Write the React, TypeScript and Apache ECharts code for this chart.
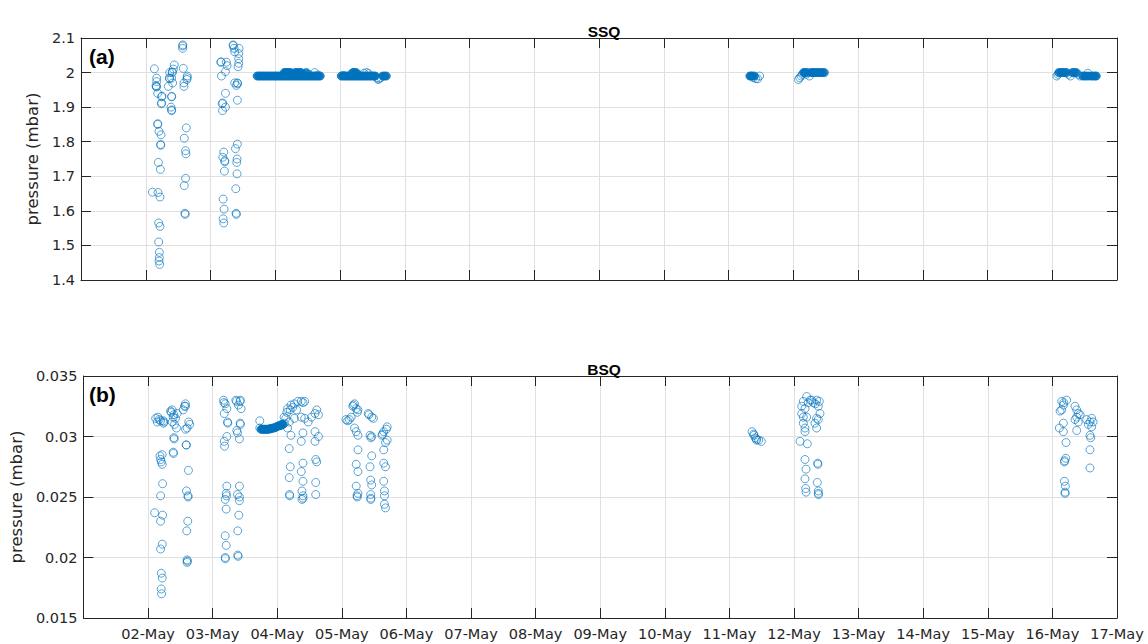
import React, { useEffect, useRef } from "react";
import * as echarts from "echarts";

// x values are day-of-May (fractional), y values pressure in mbar
const xTickLabels = ["", "02-May", "03-May", "04-May", "05-May", "06-May", "07-May", "08-May", "09-May", "10-May", "11-May", "12-May", "13-May", "14-May", "15-May", "16-May", "17-May"];

const ssqMay02 = [
  [2.133, 2.011], [2.169, 1.984], [2.169, 1.974], [2.159, 1.962], [2.165, 1.958], [2.165, 1.96], [2.185, 1.94],
  [2.246, 1.93], [2.25, 1.932], [2.241, 1.91], [2.245, 1.912], [2.185, 1.85], [2.185, 1.852], [2.205, 1.83],
  [2.236, 1.82], [2.231, 1.79], [2.23, 1.792], [2.195, 1.74], [2.226, 1.72], [2.103, 1.654], [2.19, 1.653],
  [2.22, 1.64], [2.2, 1.565], [2.22, 1.555], [2.2, 1.51], [2.21, 1.48], [2.21, 1.465], [2.205, 1.455], [2.215, 1.445],
  [2.44, 2.022], [2.426, 2.01], [2.369, 2.0], [2.41, 2.0], [2.41, 2.002], [2.364, 1.984], [2.369, 1.983],
  [2.4, 1.984], [2.349, 1.96], [2.415, 1.97], [2.4, 1.93], [2.4, 1.931], [2.39, 1.9], [2.4, 1.89], [2.4, 1.892],
  [2.57, 2.077], [2.57, 2.07], [2.572, 2.08], [2.58, 2.012], [2.64, 1.99], [2.64, 1.985], [2.636, 1.98],
  [2.59, 1.97], [2.59, 1.96], [2.626, 1.84], [2.595, 1.81], [2.615, 1.774], [2.62, 1.765], [2.615, 1.694],
  [2.595, 1.673], [2.605, 1.593], [2.61, 1.59]
];

const ssqMay03 = [
  [3.159, 2.03], [3.165, 2.031], [3.246, 2.03], [3.256, 2.02], [3.231, 2.003], [3.169, 1.99], [3.231, 1.94],
  [3.18, 1.91], [3.19, 1.912], [3.231, 1.9], [3.185, 1.89], [3.205, 1.77], [3.19, 1.755], [3.22, 1.745],
  [3.222, 1.742], [3.215, 1.715], [3.195, 1.634], [3.21, 1.605], [3.195, 1.577], [3.205, 1.565],
  [3.349, 2.08], [3.352, 2.078], [3.364, 2.07], [3.374, 2.06], [3.441, 2.07], [3.436, 2.055], [3.436, 2.04],
  [3.436, 2.027], [3.426, 2.017], [3.374, 1.97], [3.415, 1.97], [3.42, 1.968], [3.4, 1.963], [3.415, 1.92],
  [3.415, 1.793], [3.385, 1.78], [3.41, 1.75], [3.405, 1.74], [3.41, 1.707], [3.39, 1.664], [3.395, 1.593], [3.4, 1.59]
];

// densely sampled stretches (many overlapping markers read as a solid band)
const ssqMay04Dense = [
  [3.72, 1.99], [3.745, 1.99], [3.77, 1.99], [3.795, 1.99], [3.82, 1.99], [3.845, 1.99], [3.87, 1.99], [3.895, 1.99],
  [3.92, 1.99], [3.945, 1.99], [3.97, 1.99], [3.995, 1.99], [4.02, 1.99], [4.045, 1.99], [4.07, 1.99], [4.095, 1.99],
  [4.12, 1.99], [4.145, 1.99], [4.17, 1.99], [4.195, 1.99], [4.22, 1.99], [4.245, 1.99], [4.27, 1.99], [4.295, 1.99],
  [4.32, 1.99], [4.345, 1.99], [4.37, 1.99], [4.395, 1.99], [4.42, 1.99], [4.445, 1.99], [4.47, 1.99], [4.495, 1.99],
  [4.52, 1.99], [4.545, 1.99], [4.57, 1.99], [4.595, 1.99], [4.62, 1.99], [4.645, 1.99], [4.67, 1.99], [4.695, 1.99],
  [4.14, 2.0], [4.16, 2.0], [4.18, 2.0], [4.21, 2.0], [4.24, 2.0], [4.31, 2.0], [4.34, 2.0],
  [4.37, 2.0], [4.4, 2.0], [4.48, 2.0]
];

const ssqMay04Sparse = [
  [4.27, 1.995], [4.44, 1.996], [4.52, 1.995], [4.61, 2.0], [4.66, 1.993]
];

const ssqMay05Dense = [
  [5.02, 1.99], [5.045, 1.99], [5.07, 1.99], [5.095, 1.99], [5.12, 1.99], [5.145, 1.99], [5.17, 1.99], [5.195, 1.99],
  [5.22, 1.99], [5.245, 1.99], [5.27, 1.99], [5.295, 1.99], [5.32, 1.99], [5.345, 1.99], [5.37, 1.99], [5.395, 1.99],
  [5.42, 1.99], [5.445, 1.99], [5.47, 1.99], [5.495, 1.99], [5.52, 1.99], [5.545, 1.99], [5.66, 1.99], [5.69, 1.99],
  [5.715, 1.99], [5.2, 2.0], [5.22, 2.0], [5.25, 2.0]
];

const ssqMay05Sparse = [
  [5.05, 1.992], [5.17, 1.996], [5.28, 1.995], [5.37, 1.998], [5.41, 2.0], [5.44, 1.997], [5.57, 1.985], [5.6, 1.982],
  [5.63, 1.985], [5.59, 1.98]
];

const ssqMay11Dense = [
  [11.33, 1.99], [11.35, 1.99], [11.37, 1.99], [11.4, 1.99]
];

const ssqMay11Sparse = [
  [11.385, 1.985], [11.42, 1.983], [11.45, 1.982], [11.48, 1.99]
];

const ssqMay12Dense = [
  [12.16, 2.0], [12.18, 2.0], [12.22, 2.0], [12.28, 2.0], [12.3, 2.0], [12.33, 2.0], [12.36, 2.0], [12.39, 2.0],
  [12.42, 2.0], [12.45, 2.0], [12.48, 2.0]
];

const ssqMay12Sparse = [
  [12.08, 1.98], [12.1, 1.985], [12.12, 1.99], [12.14, 1.995], [12.2, 1.995], [12.25, 1.99]
];

const ssqMay16Dense = [
  [16.1, 2.0], [16.13, 2.0], [16.16, 2.0], [16.19, 2.0], [16.22, 2.0], [16.31, 2.0], [16.34, 2.0], [16.37, 2.0],
  [16.47, 1.99], [16.5, 1.99], [16.53, 1.99], [16.56, 1.99], [16.6, 1.99], [16.63, 1.99], [16.66, 1.99], [16.68, 1.99]
];

const ssqMay16Sparse = [
  [16.07, 1.99], [16.09, 1.995], [16.25, 1.995], [16.28, 1.99], [16.4, 1.995], [16.43, 1.99], [16.55, 1.998]
];

const bsqMay02 = [
  [2.118, 0.0315], [2.154, 0.0316], [2.174, 0.0314], [2.144, 0.0312], [2.195, 0.0313], [2.236, 0.0313], [2.246, 0.0312],
  [2.24, 0.0311], [2.22, 0.0285], [2.185, 0.0284], [2.195, 0.0281], [2.205, 0.0279], [2.22, 0.0277], [2.226, 0.0261],
  [2.195, 0.0251], [2.103, 0.0237], [2.226, 0.0235], [2.195, 0.023], [2.22, 0.0211], [2.195, 0.0207], [2.205, 0.0187],
  [2.22, 0.0183], [2.205, 0.0174], [2.21, 0.017],
  [2.349, 0.0321], [2.374, 0.0322], [2.4, 0.0318], [2.426, 0.0315], [2.374, 0.0312], [2.451, 0.0319], [2.41, 0.031],
  [2.441, 0.0307], [2.36, 0.032], [2.39, 0.0316], [2.4, 0.0299], [2.405, 0.0298], [2.39, 0.0287], [2.395, 0.0286],
  [2.58, 0.0327], [2.564, 0.0325], [2.544, 0.0322], [2.58, 0.0325], [2.631, 0.0312], [2.646, 0.031], [2.605, 0.0307],
  [2.58, 0.0306], [2.59, 0.0293], [2.595, 0.0293], [2.626, 0.0272], [2.595, 0.0255], [2.62, 0.0251], [2.62, 0.025],
  [2.615, 0.023], [2.6, 0.0222], [2.605, 0.0198], [2.605, 0.0196], [2.61, 0.0197]
];

const bsqMay03 = [
  [3.169, 0.033], [3.195, 0.0327], [3.22, 0.0323], [3.18, 0.0319], [3.175, 0.0328], [3.231, 0.0312], [3.235, 0.0311],
  [3.22, 0.03], [3.18, 0.0296], [3.185, 0.0292], [3.22, 0.0259], [3.21, 0.0253], [3.215, 0.0251], [3.195, 0.0248],
  [3.21, 0.024], [3.195, 0.0218], [3.21, 0.021], [3.195, 0.02], [3.198, 0.0199],
  [3.359, 0.033], [3.37, 0.0329], [3.426, 0.0329], [3.4, 0.0326], [3.441, 0.0323], [3.43, 0.033], [3.426, 0.0311],
  [3.43, 0.031], [3.374, 0.0305], [3.385, 0.0303], [3.415, 0.0298], [3.415, 0.0259], [3.385, 0.0252], [3.415, 0.0247],
  [3.415, 0.025], [3.405, 0.0235], [3.39, 0.0222], [3.39, 0.0202], [3.395, 0.0201], [3.73, 0.0313]
];

const bsqMay04Dense = [
  [3.75, 0.0306], [3.77, 0.0306], [3.79, 0.0306], [3.81, 0.0306], [3.83, 0.0306],
  [3.85, 0.0306], [3.87, 0.0306], [3.89, 0.03065], [3.91, 0.03065], [3.93, 0.0307], [3.95, 0.0307], [3.97, 0.03075],
  [3.99, 0.0308], [4.01, 0.03085], [4.03, 0.0309], [4.05, 0.0309], [4.07, 0.031], [4.09, 0.031]
];

const bsqMay04 = [
  [3.73, 0.0307], [4.11, 0.0311],
  [4.106, 0.0316], [4.16, 0.0323], [4.213, 0.0326], [4.266, 0.0327], [4.319, 0.0329], [4.372, 0.0329], [4.426, 0.0329],
  [4.4, 0.0328], [4.133, 0.0315], [4.186, 0.0312], [4.266, 0.0315], [4.372, 0.0316], [4.426, 0.0315], [4.479, 0.0312],
  [4.532, 0.0316], [4.585, 0.0319], [4.612, 0.0322], [4.638, 0.0318], [4.15, 0.032], [4.2, 0.0322], [4.24, 0.0324],
  [4.3, 0.0322], [4.16, 0.0307], [4.213, 0.0301], [4.399, 0.0303], [4.585, 0.0304], [4.638, 0.03], [4.186, 0.029],
  [4.372, 0.0296], [4.585, 0.0296], [4.202, 0.0275], [4.399, 0.0278], [4.596, 0.0281], [4.612, 0.0279], [4.372, 0.0271],
  [4.186, 0.0266], [4.399, 0.0263], [4.596, 0.0262], [4.19, 0.0252], [4.195, 0.0251], [4.383, 0.0255], [4.399, 0.0251],
  [4.596, 0.0252], [4.383, 0.0248], [4.4, 0.0249]
];

const bsqMay05 = [
  [5.064, 0.0314], [5.09, 0.0313], [5.117, 0.0314], [5.144, 0.0316], [5.17, 0.0325], [5.197, 0.0327], [5.18, 0.0326],
  [5.223, 0.0323], [5.25, 0.0322], [5.24, 0.032], [5.197, 0.0307], [5.223, 0.0304], [5.25, 0.0301], [5.25, 0.0289],
  [5.223, 0.0277], [5.25, 0.0271], [5.223, 0.0259], [5.25, 0.0253], [5.235, 0.0251], [5.24, 0.025],
  [5.41, 0.0319], [5.42, 0.0318], [5.463, 0.0316], [5.489, 0.0315], [5.436, 0.0301], [5.463, 0.03], [5.45, 0.0299],
  [5.463, 0.0284], [5.436, 0.0275], [5.447, 0.0264], [5.463, 0.026], [5.447, 0.0252], [5.447, 0.0248], [5.45, 0.0249],
  [5.622, 0.0301], [5.63, 0.0302], [5.649, 0.0304], [5.702, 0.0308], [5.69, 0.0306], [5.676, 0.0295], [5.702, 0.0297],
  [5.649, 0.0289], [5.649, 0.0278], [5.676, 0.0275], [5.649, 0.0263], [5.66, 0.0255], [5.66, 0.0251], [5.66, 0.0244],
  [5.676, 0.0241]
];

const bsqMay11 = [
  [11.35, 0.0304], [11.376, 0.0302], [11.38, 0.0301], [11.4, 0.0299], [11.417, 0.0298], [11.42, 0.0297], [11.454, 0.0297], [11.495, 0.0296]
];

const bsqMay12 = [
  [12.196, 0.0333], [12.273, 0.033], [12.35, 0.033], [12.392, 0.0329], [12.144, 0.0329], [12.119, 0.0325], [12.17, 0.0323],
  [12.376, 0.0325], [12.119, 0.0319], [12.402, 0.0319], [12.144, 0.0316], [12.35, 0.0315], [12.196, 0.0316], [12.376, 0.0314],
  [12.144, 0.0311], [12.325, 0.0311], [12.17, 0.0307], [12.35, 0.0307], [12.17, 0.0304], [12.22, 0.0328], [12.25, 0.033],
  [12.3, 0.0328], [12.33, 0.0327], [12.093, 0.0296], [12.206, 0.0294], [12.17, 0.0281], [12.366, 0.0278], [12.37, 0.0277],
  [12.186, 0.0273], [12.17, 0.0265], [12.361, 0.0262], [12.18, 0.0257], [12.186, 0.0254], [12.376, 0.0255], [12.376, 0.0253],
  [12.38, 0.0252]
];

const bsqMay16 = [
  [16.144, 0.0329], [16.221, 0.033], [16.17, 0.0326], [16.144, 0.0322], [16.119, 0.0321], [16.175, 0.0328], [16.35, 0.0325],
  [16.376, 0.0322], [16.402, 0.0319], [16.376, 0.0316], [16.428, 0.0318], [16.35, 0.0314], [16.4, 0.0312], [16.53, 0.0314],
  [16.582, 0.0312], [16.608, 0.0315], [16.556, 0.031], [16.608, 0.0308], [16.63, 0.0312], [16.17, 0.0311], [16.108, 0.0307],
  [16.17, 0.0304], [16.376, 0.0305], [16.582, 0.0301], [16.592, 0.0299], [16.211, 0.0295], [16.582, 0.0289], [16.206, 0.0282],
  [16.186, 0.0279], [16.19, 0.028], [16.582, 0.0274], [16.186, 0.0263], [16.201, 0.0259], [16.196, 0.0254], [16.196, 0.0253]
];

const ssqOpen = [...ssqMay02, ...ssqMay03, ...ssqMay04Sparse, ...ssqMay05Sparse, ...ssqMay11Sparse, ...ssqMay12Sparse, ...ssqMay16Sparse];
const ssqDense = [...ssqMay04Dense, ...ssqMay05Dense, ...ssqMay11Dense, ...ssqMay12Dense, ...ssqMay16Dense];
const bsqOpen = [...bsqMay02, ...bsqMay03, ...bsqMay04, ...bsqMay05, ...bsqMay11, ...bsqMay12, ...bsqMay16];
const bsqDense = [...bsqMay04Dense];

const AX = "#262626";
const GRIDC = "#e0e0e0";
const TICKFONT = "DejaVu Sans";

function xAxes(gridIndex: number, withLabels: boolean) {
  const base = {
    type: "value",
    gridIndex,
    min: 1,
    max: 17,
    interval: 1,
    axisLine: { show: true, onZero: false, lineStyle: { color: AX, width: 1 } },
    axisTick: { show: true, inside: true, length: 10, lineStyle: { color: AX, width: 1 } },
  };
  return [
    {
      ...base,
      position: "bottom",
      splitLine: { show: true, lineStyle: { color: GRIDC, width: 1 } },
      axisLabel: {
        show: withLabels,
        margin: 8,
        color: AX,
        fontFamily: TICKFONT,
        fontSize: 14.5,
        formatter: (v: number) => xTickLabels[Math.round(v) - 1] ?? "",
      },
    },
    { ...base, position: "top", splitLine: { show: false }, axisLabel: { show: false } },
  ];
}

function yAxes(gridIndex: number, min: number, max: number, interval: number) {
  const base = {
    type: "value",
    gridIndex,
    min,
    max,
    interval,
    axisLine: { show: true, onZero: false, lineStyle: { color: AX, width: 1 } },
    axisTick: { show: true, inside: true, length: 10, lineStyle: { color: AX, width: 1 } },
  };
  return [
    {
      ...base,
      position: "left",
      name: "pressure (mbar)",
      nameLocation: "middle",
      nameGap: 35,
      nameTextStyle: { color: AX, fontFamily: TICKFONT, fontSize: 16.5 },
      splitLine: { show: true, lineStyle: { color: GRIDC, width: 1 } },
      axisLabel: { color: AX, fontFamily: TICKFONT, fontSize: 14.5, margin: 6 },
    },
    { ...base, position: "right", splitLine: { show: false }, axisLabel: { show: false } },
  ];
}

const openStyle = {
  color: "rgba(0,0,0,0)",
  borderColor: "rgba(0,114,189,0.8)",
  borderWidth: 1,
};

const denseStyle = {
  color: "#0072BD",
  borderColor: "#0072BD",
  borderWidth: 1,
};

function scatter(data: number[][], idx: number, style: object) {
  return {
    type: "scatter",
    xAxisIndex: idx,
    yAxisIndex: idx,
    data,
    symbol: "circle",
    symbolSize: 8,
    itemStyle: style,
    emphasis: { disabled: true },
  };
}

export default function App() {
  const ref = useRef<HTMLDivElement>(null);
  useEffect(() => {
    if (!ref.current) return;
    const chart = echarts.init(ref.current, undefined, { renderer: "svg" });
    chart.setOption({
      animation: false,
      backgroundColor: "#ffffff",
      title: [
        {
          text: "SSQ",
          left: 599,
          top: 18,
          textAlign: "center",
          textStyle: { fontFamily: "Liberation Sans", fontWeight: "bold", fontSize: 15.5, color: "#000" },
        },
        {
          text: "BSQ",
          left: 599,
          top: 356,
          textAlign: "center",
          textStyle: { fontFamily: "Liberation Sans", fontWeight: "bold", fontSize: 15.5, color: "#000" },
        },
      ],
      grid: [
        { left: 81, top: 38, width: 1036, height: 242 },
        { left: 81, top: 376, width: 1036, height: 242 },
      ],
      xAxis: [...xAxes(0, false), ...xAxes(1, true)],
      yAxis: [...yAxes(0, 1.4, 2.1, 0.1), ...yAxes(1, 0.015, 0.035, 0.005)],
      graphic: [
        {
          type: "text",
          left: 89,
          top: 46,
          style: { text: "(a)", fontFamily: "Liberation Sans", fontWeight: "bold", fontSize: 21, fill: "#000" },
        },
        {
          type: "text",
          left: 89,
          top: 384,
          style: { text: "(b)", fontFamily: "Liberation Sans", fontWeight: "bold", fontSize: 21, fill: "#000" },
        },
      ],
      series: [
        scatter(ssqDense, 0, denseStyle),
        scatter(ssqOpen, 0, openStyle),
        scatter(bsqDense, 2, denseStyle),
        scatter(bsqOpen, 2, openStyle),
      ],
    });
    return () => chart.dispose();
  }, []);
  return (
    <div
      ref={ref}
      style={{ position: "absolute", left: 0, top: 0, width: 1148, height: 644, background: "#fff" }}
    />
  );
}
